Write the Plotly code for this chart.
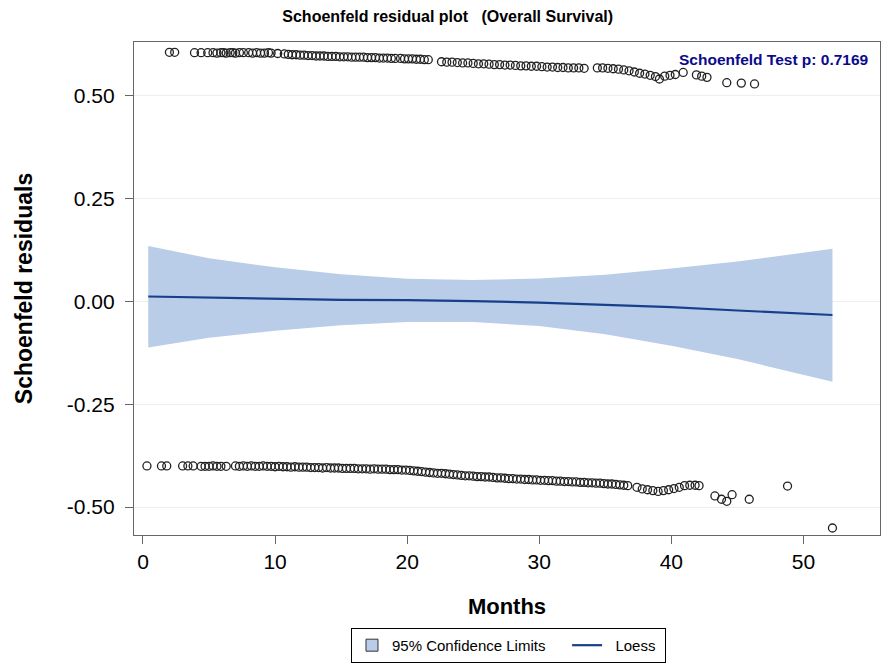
import plotly.graph_objects as go

# ---- Schoenfeld residuals: upper band (events, residual > 0) ----
upper_x = [2.0, 2.4,
           3.9, 4.4, 4.9, 5.3, 5.6, 5.9, 6.1, 6.3, 6.6, 6.8, 7.0, 7.3, 7.6,
           8.0, 8.3, 8.6, 8.9, 9.2, 9.5, 9.7,
           10.2, 10.7, 11.0, 11.3, 11.6, 11.9, 12.2, 12.5, 12.8, 13.1,
           13.4, 13.7, 14.0, 14.3, 14.6, 14.9, 15.2, 15.5, 15.8, 16.1,
           16.4, 16.7, 17.0, 17.3, 17.6, 17.9, 18.2, 18.5, 18.8, 19.1,
           19.5, 19.8, 20.1, 20.4, 20.7, 21.0, 21.3, 21.6,
           22.6, 23.0, 23.4, 23.8, 24.2, 24.6, 25.0, 25.4, 25.8, 26.2,
           26.6, 27.0, 27.4, 27.8, 28.2, 28.6, 29.0, 29.4, 29.8,
           30.2, 30.6, 31.0, 31.4, 31.8, 32.2, 32.6, 33.0, 33.4,
           34.4, 34.8, 35.2, 35.6, 36.0, 36.4, 36.8, 37.2, 37.6, 38.0,
           38.4, 38.8, 39.1, 39.5, 39.9, 40.3, 40.9, 41.9, 42.3, 42.7,
           44.2, 45.3, 46.3]
upper_y = [0.606, 0.606,
           0.605, 0.605, 0.605, 0.605, 0.604, 0.605, 0.605, 0.604, 0.605, 0.605, 0.604, 0.605, 0.605,
           0.605, 0.604, 0.605, 0.604, 0.604, 0.605, 0.604,
           0.603, 0.602, 0.601, 0.600, 0.600, 0.599, 0.599, 0.598, 0.598, 0.597,
           0.597, 0.597, 0.596, 0.596, 0.596, 0.595, 0.595, 0.595, 0.594, 0.594,
           0.594, 0.594, 0.593, 0.593, 0.593, 0.592, 0.592, 0.592, 0.591, 0.591,
           0.591, 0.590, 0.590, 0.590, 0.589, 0.589, 0.588, 0.588,
           0.583, 0.582, 0.582, 0.581, 0.580, 0.580, 0.579, 0.578, 0.578, 0.577,
           0.576, 0.576, 0.575, 0.575, 0.574, 0.573, 0.573, 0.572, 0.572,
           0.571, 0.570, 0.570, 0.569, 0.569, 0.568, 0.568, 0.568, 0.567,
           0.568, 0.568, 0.567, 0.566, 0.565, 0.563, 0.561, 0.558, 0.555, 0.553,
           0.550, 0.547, 0.541, 0.548, 0.550, 0.552, 0.557, 0.551, 0.548, 0.545,
           0.532, 0.531, 0.529]

# ---- lower band (residual < 0) ----
lower_x = [0.3, 1.4, 1.8, 3.0, 3.4, 3.8,
           4.4, 4.7, 5.0, 5.3, 5.6, 5.9, 6.3,
           7.0, 7.3, 7.6, 7.9, 8.2, 8.5, 8.8, 9.1, 9.4, 9.7,
           10.0, 10.3, 10.6, 10.9, 11.2, 11.5, 11.8, 12.1, 12.4, 12.7,
           13.0, 13.3, 13.6, 13.9, 14.2, 14.5, 14.8, 15.1, 15.4, 15.7,
           16.0, 16.3, 16.6, 16.9, 17.2, 17.5, 17.8, 18.1, 18.4, 18.7,
           19.0, 19.3, 19.6, 19.9,
           20.2, 20.5, 20.8, 21.1, 21.4, 21.7, 22.0, 22.3, 22.6, 22.9,
           23.2, 23.5, 23.8, 24.1, 24.4, 24.7, 25.0, 25.3, 25.6, 25.9,
           26.2, 26.5, 26.8, 27.1, 27.4,
           27.7, 28.0, 28.3, 28.6, 28.9, 29.2, 29.5, 29.8, 30.1, 30.4,
           30.7, 31.0, 31.3, 31.6, 31.9, 32.2, 32.5, 32.8, 33.1, 33.4,
           33.7, 34.0, 34.3, 34.6, 34.9, 35.2, 35.5, 35.8, 36.1, 36.4, 36.7,
           37.4, 37.8, 38.2, 38.6, 39.0, 39.4, 39.8, 40.2, 40.6, 41.0,
           41.4, 41.8, 42.1,
           43.3, 43.8, 44.2, 44.6, 45.9, 48.8, 52.2]
lower_y = [-0.400, -0.400, -0.400, -0.400, -0.400, -0.400,
           -0.401, -0.401, -0.401, -0.400, -0.401, -0.401, -0.401,
           -0.400, -0.401, -0.400, -0.401, -0.400, -0.401, -0.401, -0.400, -0.401, -0.401,
           -0.402, -0.401, -0.402, -0.402, -0.403, -0.402, -0.403, -0.403, -0.403, -0.404,
           -0.404, -0.404, -0.405, -0.404, -0.405, -0.405, -0.405, -0.406, -0.406, -0.406,
           -0.406, -0.407, -0.407, -0.407, -0.408, -0.407, -0.408, -0.408, -0.408, -0.409,
           -0.409, -0.409, -0.410, -0.410,
           -0.411, -0.412, -0.413, -0.414, -0.415, -0.416, -0.417, -0.418, -0.418, -0.419,
           -0.420, -0.421, -0.422, -0.423, -0.424, -0.424, -0.425, -0.426, -0.426, -0.427,
           -0.427, -0.428, -0.429, -0.429, -0.430,
           -0.431, -0.431, -0.432, -0.432, -0.433, -0.433, -0.434, -0.434, -0.435, -0.435,
           -0.436, -0.436, -0.437, -0.437, -0.438, -0.438, -0.439, -0.439, -0.440, -0.440,
           -0.441, -0.441, -0.442, -0.442, -0.443, -0.444, -0.444, -0.445, -0.446, -0.447, -0.448,
           -0.452, -0.456, -0.458, -0.460, -0.462, -0.460, -0.458, -0.455, -0.452, -0.448,
           -0.447, -0.447, -0.448,
           -0.473, -0.481, -0.486, -0.470, -0.481, -0.449, -0.551]

# ---- Loess fit and 95% confidence limits ----
fit_x = [0.4, 5, 10, 15, 20, 25, 30, 35, 40, 45, 52.2]
fit_y = [0.012, 0.009, 0.006, 0.004, 0.003, 0.001, -0.003, -0.008, -0.014, -0.022, -0.033]
ci_upper = [0.135, 0.105, 0.083, 0.066, 0.055, 0.052, 0.056, 0.065, 0.080, 0.097, 0.128]
ci_lower = [-0.112, -0.088, -0.071, -0.058, -0.050, -0.050, -0.060, -0.080, -0.108, -0.140, -0.195]

y_ticks = [-0.5, -0.25, 0.0, 0.25, 0.5]
y_tick_text = ["-0.50", "-0.25", "0.00", "0.25", "0.50"]
x_ticks = [0, 10, 20, 30, 40, 50]

FONT = "Liberation Sans, Arial, sans-serif"
BAND = "#b9cde9"
LINE = "#173f8a"

fig = go.Figure()
fig.add_trace(go.Scatter(x=fit_x, y=ci_lower, mode="lines", line=dict(width=0, color=BAND),
                         showlegend=False, hoverinfo="skip"))
fig.add_trace(go.Scatter(x=fit_x, y=ci_upper, mode="lines", line=dict(width=0, color=BAND),
                         fill="tonexty", fillcolor=BAND, showlegend=False))
# legend entry for the band: a bordered square swatch
fig.add_trace(go.Scatter(x=[None], y=[None], mode="markers",
                         name="95% Confidence Limits&nbsp;&nbsp;&nbsp;&nbsp;",
                         marker=dict(symbol="square", size=12, color=BAND,
                                     line=dict(color="#333333", width=1))))
fig.add_trace(go.Scatter(x=fit_x, y=fit_y, mode="lines", line=dict(width=2.2, color=LINE),
                         name="&nbsp;&nbsp;Loess&nbsp;"))
for xs, ys in ((upper_x, upper_y), (lower_x, lower_y)):
    fig.add_trace(go.Scatter(x=xs, y=ys, mode="markers", showlegend=False,
                             marker=dict(symbol="circle-open", size=8, color="#222222",
                                         line=dict(width=1.3))))

fig.update_layout(
    width=883, height=663,
    margin=dict(l=134, r=3, t=42, b=128, autoexpand=False),
    paper_bgcolor="white", plot_bgcolor="white",
    font=dict(family=FONT, color="black"),
    title=dict(text="<b>Schoenfeld residual plot   (Overall Survival)</b>",
               x=0.507, xanchor="center", y=0.975, yanchor="middle",
               font=dict(family="Liberation Sans Narrow, Arial Narrow, " + FONT, size=16)),
    legend=dict(orientation="h", x=0.502, xanchor="center", y=-0.224, yanchor="middle",
                bordercolor="black", borderwidth=1, font=dict(size=15),
                traceorder="normal", tracegroupgap=0),
    showlegend=True,
)
fig.update_xaxes(range=[-0.68, 55.8], tickvals=x_ticks, ticks="outside", ticklen=8,
                 tickcolor="#666666", showline=True, linecolor="#666666", linewidth=1.3,
                 mirror=True, showgrid=False, zeroline=False, tickfont=dict(size=21),
                 ticklabelstandoff=0,
                 title=dict(text="<b>Months</b>", font=dict(size=22), standoff=26))
fig.update_yaxes(range=[-0.568, 0.631], tickvals=y_ticks, ticktext=y_tick_text,
                 ticks="outside", ticklen=8, tickcolor="#666666", showline=True,
                 linecolor="#666666", linewidth=1.3, mirror=True, showgrid=True,
                 gridcolor="#eeeeee", gridwidth=1, zeroline=False, tickfont=dict(size=21),
                 ticklabelstandoff=6,
                 title=dict(text="<b>Schoenfeld residuals</b>", font=dict(size=23), standoff=27))

fig.add_annotation(text="<b>Schoenfeld Test p: 0.7169</b>", xref="paper", yref="paper",
                   x=0.988, y=0.965, xanchor="right", yanchor="middle", showarrow=False,
                   font=dict(size=15.5, color="#0a0a8c"))

fig.write_html("out.html", config={"displayModeBar": False},
               post_script="document.body.style.margin='0';document.body.style.overflow='hidden';")
